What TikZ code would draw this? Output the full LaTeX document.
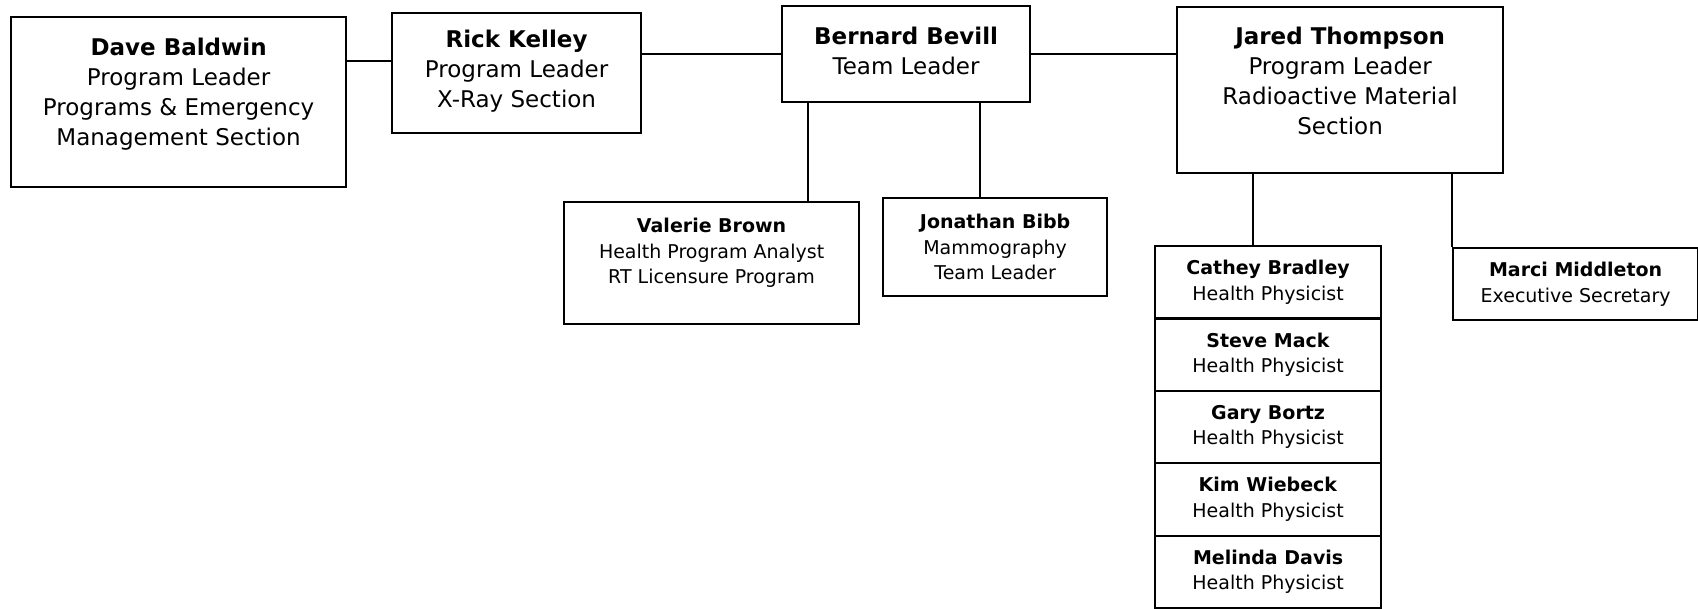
\documentclass[tikz,border=0pt]{standalone}
\usepackage{fontspec}
\setmainfont{DejaVu Sans}
\usetikzlibrary{positioning}
\tikzset{
  box/.style={draw, line width=2.2pt, inner sep=0pt, anchor=north west},
  conn/.style={line width=2.2pt},
  bigtxt/.style={font=\fontsize{23}{30}\selectfont, align=center, inner sep=0pt},
  smalltxt/.style={font=\fontsize{19}{25.5}\selectfont, align=center, inner sep=0pt}
}
\begin{document}
\begin{tikzpicture}[x=1pt, y=-1pt]
\useasboundingbox (0,0) rectangle (1698,609);
% top row
\node[box, minimum width=335pt, minimum height=170pt] (dave) at (10,16) {};
\node[bigtxt] (dave-t) at ([yshift=8pt]dave.center) {\textbf{Dave Baldwin}\\Program Leader\\Programs \& Emergency\\Management Section};
\node[box, minimum width=249pt, minimum height=120pt] (rick) at (391,12) {};
\node[bigtxt] (rick-t) at ([yshift=2pt]rick.center) {\textbf{Rick Kelley}\\Program Leader\\X-Ray Section};
\node[box, minimum width=248pt, minimum height=96pt] (bernard) at (781,5) {};
\node[bigtxt] (bernard-t) at ([yshift=3pt]bernard.center) {\textbf{Bernard Bevill}\\Team Leader};
\node[box, minimum width=326pt, minimum height=166pt] (jared) at (1176,6) {};
\node[bigtxt] (jared-t) at ([yshift=9pt]jared.center) {\textbf{Jared Thompson}\\Program Leader\\Radioactive Material\\Section};
% second row
\node[box, minimum width=295pt, minimum height=122pt] (valerie) at (563,201) {};
\node[smalltxt] (valerie-t) at ([yshift=10pt]valerie.center) {\textbf{Valerie Brown}\\Health Program Analyst\\RT Licensure Program};
\node[box, minimum width=224pt, minimum height=98pt] (jonathan) at (882,197) {};
\node[smalltxt] (jonathan-t) at (jonathan.center) {\textbf{Jonathan Bibb}\\Mammography\\Team Leader};
\node[box, minimum width=245pt, minimum height=72pt] (marci) at (1452,247) {};
\node[smalltxt] (marci-t) at (marci.center) {\textbf{Marci Middleton}\\Executive Secretary};
% health physicists
\foreach \who/\name [count=\i from 0] in {cathey/Cathey Bradley, steve/Steve Mack, gary/Gary Bortz, kim/Kim Wiebeck, melinda/Melinda Davis}{
  \node[box, minimum width=226pt, minimum height=72.4pt] (\who) at (1154,245+72.4*\i) {};
  \node[smalltxt] (\who-t) at (\who.center) {\textbf{\name}\\Health Physicist};
}
% connectors
\draw[conn] ([yshift=41pt]dave.east) -- ([yshift=41pt]dave.east -| rick.west);
\draw[conn] (bernard.west -| rick.east) -- (bernard.west);
\draw[conn] (bernard.east) -- (bernard.east -| jared.west);
\draw[conn] ([xshift=27pt]bernard.south west) -- ([xshift=27pt]bernard.south west |- valerie.north);
\draw[conn] ([xshift=199pt]bernard.south west) -- ([xshift=199pt]bernard.south west |- jonathan.north);
\draw[conn] ([xshift=77pt]jared.south west) -- ([xshift=77pt]jared.south west |- cathey.north);
\draw[conn] (marci.north west) -- (marci.north west |- jared.south);
\end{tikzpicture}
\end{document}
